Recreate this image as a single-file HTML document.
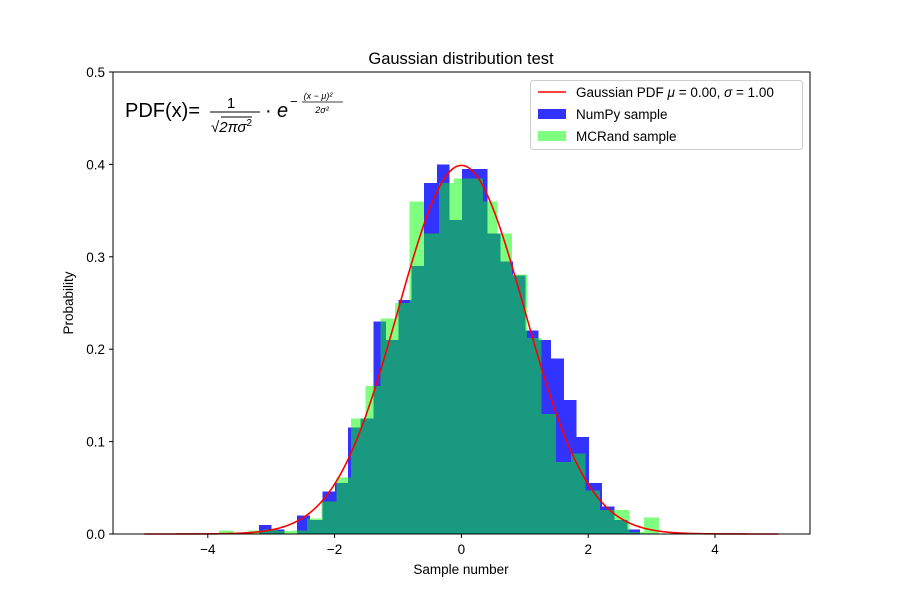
<!DOCTYPE html>
<html><head><meta charset="utf-8"><style>
body{margin:0;background:#fff;}
svg text{font-family:"Liberation Sans","DejaVu Sans",sans-serif;}
</style></head><body>
<svg id="c" width="900" height="600" xmlns="http://www.w3.org/2000/svg">
<rect x="0" y="0" width="900" height="600" fill="#fff"/>
<g id="bars" shape-rendering="crispEdges"></g>
<g id="curve"></g>
<rect x="113" y="72" width="697" height="462" fill="none" stroke="#000" stroke-width="1"/>
<g id="ticks"></g>
<text x="461" y="64" font-size="16.5" text-anchor="middle">Gaussian distribution test</text>
<text x="461" y="574" font-size="13.5" text-anchor="middle">Sample number</text>
<text x="73" y="303" font-size="13.5" text-anchor="middle" transform="rotate(-90 73 303)">Probability</text>
<g>
<text x="125" y="117" font-size="20">PDF(x)=</text>
<text x="231" y="108" font-size="15" text-anchor="middle">1</text>
<line x1="210" y1="112" x2="260" y2="112" stroke="#000" stroke-width="1"/>
<text x="211" y="132" font-size="15">√<tspan font-style="italic">2πσ</tspan><tspan font-size="10" dy="-6">2</tspan></text>
<line x1="221" y1="117" x2="252" y2="117" stroke="#000" stroke-width="1"/>
<text x="265" y="117" font-size="20">·</text>
<text x="277" y="117" font-size="20" font-style="italic">e</text>
<text x="290" y="106" font-size="13">−</text>
<text x="318" y="99" font-size="9" text-anchor="middle" font-style="italic">(x − μ)²</text>
<line x1="302" y1="102" x2="343" y2="102" stroke="#000" stroke-width="0.8"/>
<text x="322" y="113" font-size="9" text-anchor="middle" font-style="italic">2σ²</text>
</g>
<g>
<rect x="530.5" y="80.5" width="272" height="69" rx="3" fill="#fff" fill-opacity="0.8" stroke="#ccc"/>
<line x1="538" y1="92" x2="566" y2="92" stroke="#f00" stroke-width="1.5"/>
<text x="576" y="97" font-size="13.5">Gaussian PDF <tspan font-style="italic">μ</tspan> = 0.00, <tspan font-style="italic">σ</tspan> = 1.00</text>
<rect x="538" y="109" width="28" height="10" fill="#0000ff" fill-opacity="0.8"/>
<text x="576" y="119" font-size="13.5">NumPy sample</text>
<rect x="538" y="131" width="28" height="10" fill="#00ff00" fill-opacity="0.5"/>
<text x="576" y="141" font-size="13.5">MCRand sample</text>
</g>
</svg>
<script>
const numpyStart = -3.192, numpyWidth = 0.2003;
const numpyValues = [0.01,0.005,0,0.02,0.015,0.046,0.055,0.115,0.125,0.23,0.21,0.253,0.29,0.38,0.40,0.34,0.395,0.395,0.325,0.295,0.28,0.22,0.21,0.19,0.145,0.105,0.055,0.03,0.015,0.005];
const mcStart = -3.823, mcWidth = 0.2312;
const mcValues = [0.004,0,0.004,0.005,0.003,0.004,0.017,0.035,0.061,0.125,0.16,0.233,0.25,0.36,0.325,0.38,0.385,0.385,0.36,0.325,0.281,0.212,0.13,0.078,0.087,0.047,0.026,0.026,0.002,0.018];
const xTicks = [-4,-2,0,2,4];
const yTicks = [0.0,0.1,0.2,0.3,0.4,0.5];
const mu = 0, sigma = 1;
const X = v => 461.4 + v*63.4;
const Y = v => 534 - v*924;
const NS = 'http://www.w3.org/2000/svg';
const bars = document.getElementById('bars');
function mk(tag, attrs, parent){const e=document.createElementNS(NS,tag);for(const k in attrs)e.setAttribute(k,attrs[k]);parent.appendChild(e);return e;}
numpyValues.forEach((v,i)=>{
  const x0=X(numpyStart+i*numpyWidth), x1=X(numpyStart+(i+1)*numpyWidth);
  const r=mk('rect',{x:x0,y:Y(v),width:x1-x0,height:Y(0)-Y(v),fill:'#0000ff','fill-opacity':0.8},bars);
  
  
});
mcValues.forEach((v,i)=>{
  const x0=X(mcStart+i*mcWidth), x1=X(mcStart+(i+1)*mcWidth);
  const r=mk('rect',{x:x0,y:Y(v),width:x1-x0,height:Y(0)-Y(v),fill:'#00ff00','fill-opacity':0.5},bars);
  
  
});
let d='';
for(let i=0;i<=400;i++){const x=-5+i*10/400;const y=Math.exp(-((x-mu)**2)/(2*sigma*sigma))/Math.sqrt(2*Math.PI*sigma*sigma);d+=(i?'L':'M')+X(x).toFixed(2)+' '+Y(y).toFixed(2);}
const p=mk('path',{d:d,fill:'none',stroke:'#ff0000','stroke-width':1.6},document.getElementById('curve'));


const tk=document.getElementById('ticks');
xTicks.forEach(t=>{
  mk('line',{x1:X(t),x2:X(t),y1:534,y2:538,stroke:'#000'},tk);
  const s=mk('text',{x:X(t),y:554,'font-size':13.5,'text-anchor':'middle'},tk);
  s.textContent=(t<0?'−':'')+Math.abs(t);
  
  
});
yTicks.forEach(t=>{
  mk('line',{x1:109,x2:113,y1:Y(t),y2:Y(t),stroke:'#000'},tk);
  const s=mk('text',{x:105,y:Y(t)+5,'font-size':13.5,'text-anchor':'end'},tk);
  s.textContent=t.toFixed(1);
  
  
});
</script>
</body></html>
